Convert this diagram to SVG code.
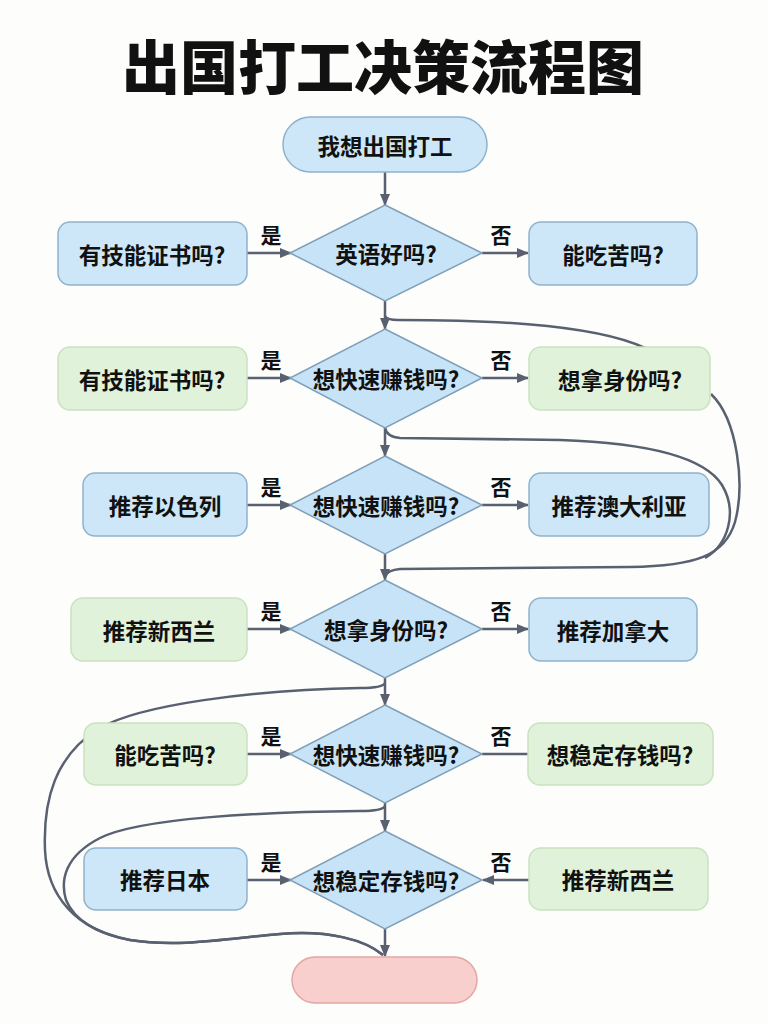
<svg xmlns="http://www.w3.org/2000/svg" width="768" height="1024" viewBox="0 0 768 1024">
<defs>
<marker id="ah" markerWidth="12" markerHeight="10" refX="11" refY="5" orient="auto" markerUnits="userSpaceOnUse">
<path d="M0,0 L12,5 L0,10 Z" fill="#596170"/>
</marker>
<style>
text{font-family:"Noto Sans CJK SC","Noto Sans",sans-serif;fill:#111;dominant-baseline:central;text-anchor:middle}
.t{font-size:22.5px;font-weight:600}
.lbl{font-size:21px;font-weight:600}
.title{font-size:58px;font-weight:900}
.blue{fill:#cde7f8;stroke:#8fb2cc;stroke-width:1.5}
.green{fill:#e0f2d9;stroke:#c9e2c0;stroke-width:1.5}
.dia{fill:#c7e3f7;stroke:#7f9fb8;stroke-width:1.5}
.pink{fill:#f8cfcc;stroke:#e3a6a2;stroke-width:1.5}
.c{fill:none;stroke:#596170;stroke-width:2.5}
.a{fill:none;stroke:#596170;stroke-width:2.5;marker-end:url(#ah)}
</style>
</defs>
<rect width="768" height="1024" fill="#fdfdfc"/>
<text class="title" x="383" y="64">出国打工决策流程图</text>

<g id="connectors">
<line class="a" x1="385" y1="172" x2="385" y2="205"/>
<line class="a" x1="385" y1="301" x2="385" y2="329"/>
<line class="a" x1="385" y1="428" x2="385" y2="456"/>
<line class="a" x1="385" y1="554" x2="385" y2="580"/>
<line class="a" x1="385" y1="678" x2="385" y2="705"/>
<line class="a" x1="385" y1="803" x2="385" y2="831"/>
<line class="a" x1="385" y1="929" x2="385" y2="956"/>

<line class="a" x1="247" y1="253" x2="291" y2="253"/>
<line class="a" x1="482" y1="253" x2="528" y2="253"/>
<line class="a" x1="247" y1="378" x2="291" y2="378"/>
<line class="a" x1="482" y1="378" x2="528" y2="378"/>
<line class="a" x1="247" y1="505" x2="291" y2="505"/>
<line class="a" x1="482" y1="505" x2="528" y2="505"/>
<line class="a" x1="247" y1="629" x2="291" y2="629"/>
<line class="a" x1="482" y1="629" x2="528" y2="629"/>
<line class="a" x1="247" y1="754" x2="291" y2="754"/>
<line class="c" x1="482" y1="754" x2="528" y2="754"/>
<line class="a" x1="247" y1="880" x2="291" y2="880"/>
<line class="a" x1="529" y1="880" x2="483" y2="880"/>

<path class="c" d="M385 316 Q387 320 398 320 C470 320 590 322 645 348"/>
<path class="c" d="M711 394 C738 420 745 485 735 522 C725 556 695 566 630 567 L400 569 Q388 570 385 576"/>
<path class="c" d="M385 428 Q387 437 400 438 L560 440 C650 443 705 458 722 485 C738 512 728 545 705 558"/>
<path class="c" d="M385 683 Q383 688 360 688 C250 690 140 705 100 728 C55 755 43 800 45 850 C47 895 75 930 130 940 C180 948 230 938 280 934 C330 930 365 940 383 955"/>
<path class="c" d="M385 806 Q383 811 360 811 C260 812 140 818 100 838 C65 856 60 880 66 900 C75 922 100 934 130 940 C180 948 230 938 280 934 C330 930 365 940 383 955"/>

<text class="lbl" x="271" y="234">是</text>
<text class="lbl" x="501" y="234">否</text>
<text class="lbl" x="271" y="359">是</text>
<text class="lbl" x="501" y="359">否</text>
<text class="lbl" x="271" y="486">是</text>
<text class="lbl" x="501" y="486">否</text>
<text class="lbl" x="271" y="610">是</text>
<text class="lbl" x="501" y="610">否</text>
<text class="lbl" x="271" y="735">是</text>
<text class="lbl" x="501" y="735">否</text>
<text class="lbl" x="271" y="861">是</text>
<text class="lbl" x="501" y="861">否</text>
</g>

<g id="start"><rect class="blue" x="283" y="117" width="204" height="55" rx="27.5"/><text class="t" x="385" y="145">我想出国打工</text></g>

<g id="d1"><polygon class="dia" points="385,205 482,253 385,301 290,253"/><text class="t" x="386" y="253">英语好吗?</text></g>
<g id="l1"><rect class="blue" x="58" y="222" width="189" height="63" rx="12"/><text class="t" x="152" y="254">有技能证书吗?</text></g>
<g id="r1"><rect class="blue" x="529" y="222" width="168" height="63" rx="12"/><text class="t" x="613" y="254">能吃苦吗?</text></g>

<g id="d2"><polygon class="dia" points="385,329 482,378 385,428 290,378"/><text class="t" x="386" y="378">想快速赚钱吗?</text></g>
<g id="l2"><rect class="green" x="58" y="347" width="189" height="63" rx="12"/><text class="t" x="152" y="379">有技能证书吗?</text></g>
<g id="r2"><rect class="green" x="529" y="347" width="181" height="63" rx="12"/><text class="t" x="620" y="379">想拿身份吗?</text></g>

<g id="d3"><polygon class="dia" points="385,456 482,505 385,554 290,505"/><text class="t" x="386" y="505">想快速赚钱吗?</text></g>
<g id="l3"><rect class="blue" x="83" y="473" width="164" height="63" rx="12"/><text class="t" x="165" y="505">推荐以色列</text></g>
<g id="r3"><rect class="blue" x="529" y="473" width="180" height="63" rx="12"/><text class="t" x="619" y="505">推荐澳大利亚</text></g>

<g id="d4"><polygon class="dia" points="385,580 482,629 385,678 290,629"/><text class="t" x="386" y="629">想拿身份吗?</text></g>
<g id="l4"><rect class="green" x="71" y="598" width="176" height="63" rx="12"/><text class="t" x="159" y="630">推荐新西兰</text></g>
<g id="r4"><rect class="blue" x="529" y="598" width="168" height="63" rx="12"/><text class="t" x="613" y="630">推荐加拿大</text></g>

<g id="d5"><polygon class="dia" points="385,705 482,754 385,803 290,754"/><text class="t" x="386" y="754">想快速赚钱吗?</text></g>
<g id="l5"><rect class="green" x="84" y="723" width="163" height="62" rx="12"/><text class="t" x="165" y="754">能吃苦吗?</text></g>
<g id="r5"><rect class="green" x="528" y="723" width="185" height="62" rx="12"/><text class="t" x="620" y="754">想稳定存钱吗?</text></g>

<g id="d6"><polygon class="dia" points="385,831 482,880 385,929 290,880"/><text class="t" x="386" y="880">想稳定存钱吗?</text></g>
<g id="l6"><rect class="blue" x="84" y="848" width="163" height="62" rx="12"/><text class="t" x="165" y="879">推荐日本</text></g>
<g id="r6"><rect class="green" x="529" y="848" width="179" height="62" rx="12"/><text class="t" x="618" y="879">推荐新西兰</text></g>

<g id="end"><rect class="pink" x="292" y="957" width="185" height="46" rx="23"/></g>
</svg>
